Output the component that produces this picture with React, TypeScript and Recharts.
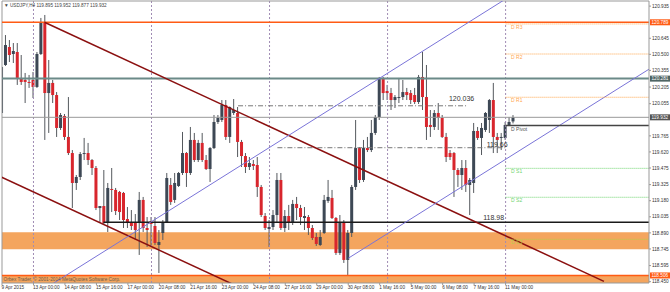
import React from "react";
import {
  Bar,
  ComposedChart,
  ReferenceArea,
  ReferenceDot,
  ReferenceLine,
  XAxis,
  YAxis,
} from "recharts";

// USDJPY H4, bar 0 = 9 Apr 2015 16:00
const OPEN = [
  119.971, 120.404, 120.566, 120.503, 120.521, 120.287, 120.269, 120.251, 120.269, 120.206,
  120.503, 120.783, 120.151, 120.242, 120.133, 119.836, 119.944, 119.755, 119.61, 119.34,
  119.394, 119.601, 119.61, 119.547, 119.475, 119.114, 119.132, 118.979, 119.286, 119.277,
  119.259, 119.25, 119.015, 118.979, 118.979, 118.988, 119.187, 118.934, 118.997, 118.952,
  118.781, 118.889, 118.988, 119.322, 119.187, 119.313, 119.43, 119.61, 119.43, 119.728,
  119.547, 119.701, 119.547, 119.466, 119.655, 119.89, 119.908, 120.043, 119.755, 119.971,
  119.971, 119.71, 119.583, 119.484, 119.511, 119.502, 119.304, 119.042, 118.925, 118.943,
  119.051, 119.367, 118.934, 119.042, 118.988, 119.151, 119.114, 119.024, 119.033, 118.934,
  118.853, 118.781, 118.889, 119.178, 119.205, 119.024, 118.709, 118.988, 118.646, 118.889,
  119.304, 119.655, 119.367, 119.655, 119.637, 119.791, 119.935, 120.287, 120.169, 120.151,
  120.088, 120.106, 120.115, 120.16, 120.151, 120.133, 120.07, 120.296, 120.115, 119.863,
  119.845, 119.971, 119.926, 119.755, 119.61, 119.61, 119.457, 119.412, 119.475, 119.322,
  119.34, 119.809, 119.746, 119.818, 119.908, 120.088, 119.755, 119.746, 119.746, 119.863,
  119.895,
];
const HIGH = [
  120.395, 120.674, 120.629, 120.602, 120.602, 120.494, 120.332, 120.314, 120.341, 120.521,
  120.828, 120.855, 120.449, 120.269, 120.16, 119.971, 119.962, 120.115, 119.637, 119.412,
  119.619, 119.746, 119.701, 119.556, 119.493, 119.132, 119.457, 119.34, 119.475, 119.295,
  119.268, 119.259, 119.123, 119.096, 119.06, 119.259, 119.214, 119.033, 119.033, 119.033,
  118.916, 119.006, 119.43, 119.385, 119.43, 119.439, 119.8, 119.619, 119.845, 119.791,
  119.728, 119.791, 119.592, 119.664, 119.953, 119.953, 120.088, 120.088, 120.03, 120.097,
  120.025, 119.728, 119.61, 119.574, 119.547, 119.574, 119.322, 119.069, 119.006, 119.096,
  119.43, 119.43, 119.096, 119.142, 119.187, 119.214, 119.142, 119.123, 119.051, 118.961,
  118.889, 118.916, 119.232, 119.367, 119.277, 119.033, 119.051, 119.006, 118.916, 119.322,
  119.908, 119.664, 119.728, 119.755, 119.908, 119.953, 120.296, 120.296, 120.224, 120.197,
  120.133, 120.287, 120.269, 120.197, 120.178, 120.197, 120.314, 120.521, 120.404, 119.998,
  119.998, 120.061, 119.953, 119.791, 119.637, 119.619, 119.475, 119.547, 119.547, 119.385,
  119.881, 119.845, 119.881, 119.98, 120.097, 120.242, 119.791, 119.791, 119.89, 119.935,
  119.952,
];
const LOW = [
  119.962, 120.395, 120.431, 120.422, 120.224, 120.224, 120.061, 120.197, 120.106, 120.197,
  120.494, 119.728, 119.791, 120.061, 119.755, 119.818, 119.728, 119.592, 119.114, 119.277,
  119.367, 119.547, 119.502, 119.412, 119.096, 118.979, 118.97, 118.898, 119.078, 119.051,
  119.006, 118.934, 118.934, 118.916, 118.826, 118.691, 118.898, 118.763, 118.772, 118.781,
  118.528, 118.826, 118.979, 119.142, 119.16, 119.304, 119.412, 119.304, 119.412, 119.529,
  119.529, 119.529, 119.457, 119.349, 119.646, 119.872, 119.89, 119.728, 119.701, 119.953,
  119.574, 119.484, 119.43, 119.457, 119.457, 119.214, 119.033, 118.916, 118.763, 118.916,
  118.988, 118.916, 118.898, 118.916, 118.961, 119.006, 118.961, 118.916, 118.871, 118.826,
  118.772, 118.772, 118.88, 119.16, 119.015, 118.691, 118.691, 118.619, 118.501, 118.853,
  119.277, 119.34, 119.349, 119.619, 119.619, 119.773, 119.908, 120.088, 120.088, 119.998,
  120.016, 120.061, 120.088, 120.088, 120.052, 120.052, 120.052, 119.998, 119.728, 119.755,
  119.818, 119.818, 119.746, 119.529, 119.547, 119.214, 119.304, 119.277, 119.259, 119.051,
  119.25, 119.728, 119.592, 119.8, 119.791, 119.61, 119.61, 119.637, 119.728, 119.854,
  119.877,
];
const CLOSE = [
  120.386, 120.584, 120.494, 120.53, 120.287, 120.251, 120.251, 120.242, 120.206, 120.503,
  120.783, 120.151, 120.242, 120.133, 119.836, 119.953, 119.755, 119.61, 119.34, 119.394,
  119.601, 119.61, 119.547, 119.475, 119.114, 119.132, 118.979, 119.295, 119.277, 119.087,
  119.078, 119.006, 118.979, 118.952, 118.916, 119.187, 118.934, 118.916, 118.97, 118.799,
  118.808, 118.988, 119.385, 119.169, 119.34, 119.43, 119.61, 119.43, 119.728, 119.547,
  119.701, 119.547, 119.466, 119.655, 119.89, 119.926, 120.043, 119.755, 120.025, 119.998,
  119.71, 119.583, 119.484, 119.52, 119.493, 119.304, 119.051, 118.934, 118.943, 119.051,
  119.367, 118.934, 119.042, 118.988, 119.151, 119.114, 119.033, 119.042, 118.934, 118.844,
  118.79, 118.853, 119.187, 119.214, 119.024, 118.709, 118.988, 118.646, 118.889, 119.304,
  119.655, 119.367, 119.655, 119.637, 119.791, 119.935, 120.287, 120.151, 120.151, 120.088,
  120.115, 120.115, 120.16, 120.133, 120.088, 120.07, 120.296, 120.115, 119.845, 119.845,
  119.971, 119.926, 119.755, 119.574, 119.574, 119.457, 119.412, 119.475, 119.322, 119.367,
  119.809, 119.746, 119.836, 119.971, 120.088, 119.755, 119.728, 119.755, 119.863, 119.89,
  119.932,
];

const TIME_TICKS = [0, 8, 16, 24, 32, 40, 48, 56, 64, 72, 80, 88, 96, 104, 112, 120, 128];
const TIME_LABELS = [
  "9 Apr 2015", "13 Apr 00:00", "14 Apr 08:00", "15 Apr 16:00", "17 Apr 00:00",
  "20 Apr 08:00", "21 Apr 16:00", "23 Apr 00:00", "24 Apr 08:00", "27 Apr 16:00",
  "29 Apr 00:00", "30 Apr 08:00", "1 May 16:00", "5 May 00:00", "6 May 08:00",
  "7 May 16:00", "11 May 00:00",
];
const WEEK_STARTS = [8, 38, 68, 98, 128];

const PRICE_TICKS = [
  120.935, 120.645, 120.5, 120.355, 120.205, 120.055, 119.765, 119.62, 119.475,
  119.325, 119.18, 119.035, 118.89, 118.745, 118.595, 118.45,
];

const Y_MIN = 118.438;
const Y_MAX = 120.981;
const X_MIN = 0;
const X_MAX = 164.45;

// daily pivots, drawn from 11 May 00:00
const PIVOT_NAMES = ["D R3", "D R2", "D R1", "D Pivot", "D S1", "D S2", "D S3"];
const PIVOT_PRICES = [120.774, 120.503, 120.113, 119.858, 119.472, 119.211, 118.832];
const PIVOT_START = 128;

// support zone and bottom zone
const ZONE = [118.742, 118.895];
const BOTTOM_ZONE = [118.3, 118.506];

// trend channels: [bar, price] anchors
const DOWN_TOP = [[10.8, 120.789], [153, 118.453]];
const DOWN_BOTTOM = [[-1, 119.407], [62, 118.372]];
const UP_TOP = [[10, 118.367], [135, 121.155]];
const UP_BOTTOM = [[88, 118.661], [170, 120.49]];

const MARKS = [
  { text: "120.036", bar: 113.6, price: 120.081 },
  { text: "119.66", bar: 123.2, price: 119.666 },
  { text: "118.98", bar: 122.3, price: 119.008 },
];
const DASH_LEVELS = [
  { from: 60, to: 118, price: 120.036 },
  { from: 70, to: 128, price: 119.658 },
];
const SUPPORT_LINE = { from: 25.8, price: 118.985 };

const CANDLES = OPEN.map((o, i) => ({
  i,
  o,
  h: HIGH[i],
  l: LOW[i],
  c: CLOSE[i],
  range: [LOW[i], HIGH[i]],
}));

const FONT = "'Liberation Sans', Arial, sans-serif";
const BULL = "#3d4855";
const BEAR = "#d8262d";
const WICK = "#55595e";

function Candle(props: any) {
  const { x, y, width, height, payload } = props;
  if (payload == null || x == null) return null;
  const { o, h, l, c } = payload;
  const span = h - l || 1;
  const py = (p: number) => y + ((h - p) / span) * height;
  const top = py(Math.max(o, c));
  const bottom = py(Math.min(o, c));
  const cx = x + width / 2;
  return (
    <g>
      <line x1={cx} x2={cx} y1={y} y2={y + height} stroke={WICK} strokeWidth={1} />
      <rect
        x={x}
        y={top}
        width={width}
        height={Math.max(bottom - top, 1)}
        fill={c >= o ? BULL : BEAR}
      />
    </g>
  );
}

function TimeTick(props: any) {
  const { x, y, payload } = props;
  const idx = TIME_TICKS.indexOf(payload.value);
  return (
    <text x={x - 0.5} y={y + 4} fontSize={4.7} fill="#333" fontFamily={FONT} textAnchor="start">
      {TIME_LABELS[idx]}
    </text>
  );
}

function axisTag(text: string, bg: string) {
  return (props: any) => {
    const vb = props.viewBox;
    if (!vb) return null;
    const x = vb.x + vb.width;
    return (
      <g>
        <rect x={x + 1} y={vb.y - 3} width={20} height={6} fill={bg} />
        <text x={x + 2.5} y={vb.y + 1.7} fontSize={4.7} fill="#fff" fontFamily={FONT}>
          {text}
        </text>
      </g>
    );
  };
}

function pivotTag(text: string, color: string) {
  return (props: any) => {
    const vb = props.viewBox;
    if (!vb) return null;
    return (
      <text x={vb.x + 5.5} y={vb.y + 5} fontSize={5} fill={color} fontFamily={FONT}>
        {text}
      </text>
    );
  };
}

function markShape(text: string) {
  return (props: any) => (
    <text x={props.cx} y={props.cy} fontSize={7} fill="#333" fontFamily={FONT}>
      {text}
    </text>
  );
}

const seg = (pts: number[][]) => pts.map(([x, y]) => ({ x, y }));

export default function App() {
  return (
    <div style={{ position: "relative", width: 670, height: 292, background: "#fff" }}>
      <style>{"body{margin:0}"}</style>
      <ComposedChart
        width={670}
        height={292}
        data={CANDLES}
        margin={{ top: 1, right: 0, bottom: 0, left: 2 }}
      >
        <XAxis
          dataKey="i"
          type="number"
          domain={[X_MIN, X_MAX]}
          allowDataOverflow
          ticks={TIME_TICKS}
          interval={0}
          height={9}
          tickSize={2}
          tickMargin={0}
          tick={(p: any) => <TimeTick {...p} />}
          axisLine={{ stroke: "#999" }}
          tickLine={{ stroke: "#999" }}
        />
        <YAxis
          type="number"
          orientation="right"
          domain={[Y_MIN, Y_MAX]}
          allowDataOverflow
          ticks={PRICE_TICKS}
          interval={0}
          width={21}
          tickSize={2}
          tickMargin={1}
          tick={{ fontSize: 4.7, fill: "#333", fontFamily: FONT }}
          tickFormatter={(v: number) => v.toFixed(3)}
          axisLine={{ stroke: "#999" }}
          tickLine={{ stroke: "#999" }}
        />

        <ReferenceArea y1={ZONE[0]} y2={ZONE[1]} fill="#f4a55e" fillOpacity={1} stroke="none" />
        <ReferenceArea
          y1={BOTTOM_ZONE[0]}
          y2={BOTTOM_ZONE[1]}
          fill="#f4a55e"
          fillOpacity={1}
          stroke="none"
          ifOverflow="hidden"
        />

        {WEEK_STARTS.map((b) => (
          <ReferenceLine key={b} x={b} stroke="#a08cb4" strokeDasharray="2 2" />
        ))}

        <ReferenceLine y={Y_MAX} stroke="#999" ifOverflow="visible" />
        <ReferenceLine x={X_MIN} stroke="#999" ifOverflow="visible" />

        <ReferenceLine y={120.789} stroke="#ff5b14" strokeWidth={1.5} label={axisTag("120.789", "#ff5b14")} />
        <ReferenceLine y={120.281} stroke="#6b8a88" strokeWidth={2} label={axisTag("120.281", "#4f6564")} />
        <ReferenceLine y={119.932} stroke="#9a9a9a" strokeWidth={1} label={axisTag("119.932", "#555")} />
        <ReferenceLine y={118.506} stroke="#ff5b14" strokeWidth={1.5} label={axisTag("118.506", "#ff5b14")} />

        {DASH_LEVELS.map((d) => (
          <ReferenceLine
            key={d.price}
            segment={[{ x: d.from, y: d.price }, { x: d.to, y: d.price }]}
            stroke="#777"
            strokeDasharray="5 2 1 2"
          />
        ))}
        <ReferenceLine
          segment={[{ x: SUPPORT_LINE.from, y: SUPPORT_LINE.price }, { x: X_MAX, y: SUPPORT_LINE.price }]}
          stroke="#1a1a1a"
          strokeWidth={1.5}
        />

        <ReferenceLine segment={seg(DOWN_TOP)} stroke="#8b1010" strokeWidth={1.5} ifOverflow="hidden" />
        <ReferenceLine segment={seg(DOWN_BOTTOM)} stroke="#8b1010" strokeWidth={1.5} ifOverflow="hidden" />
        <ReferenceLine segment={seg(UP_TOP)} stroke="#7a74d8" strokeWidth={1} ifOverflow="hidden" />
        <ReferenceLine segment={seg(UP_BOTTOM)} stroke="#7a74d8" strokeWidth={1} ifOverflow="hidden" />

        {PIVOT_PRICES.map((p, k) => {
          const name = PIVOT_NAMES[k];
          const isPivot = name === "D Pivot";
          const color = isPivot ? "#555" : name.includes("R") ? "#ffa64d" : k === 6 ? "#b5cf4a" : "#6fd46f";
          return (
            <ReferenceLine
              key={name}
              segment={[{ x: PIVOT_START, y: p }, { x: X_MAX, y: p }]}
              stroke={isPivot ? "#444" : color}
              strokeWidth={isPivot ? 1.5 : 1}
              strokeDasharray={isPivot ? undefined : "1 1"}
              label={pivotTag(name, color)}
            />
          );
        })}

        <Bar
          dataKey="range"
          barSize={3}
          shape={(p: any) => <Candle {...p} />}
          isAnimationActive={false}
        />

        {MARKS.map((m) => (
          <ReferenceDot
            key={m.text}
            x={m.bar}
            y={m.price}
            r={0}
            shape={markShape(m.text)}
          />
        ))}
      </ComposedChart>
      <svg
        width={670}
        height={292}
        style={{ position: "absolute", left: 0, top: 0, pointerEvents: "none" }}
      >
        <text x={4} y={6.6} fontSize={4.7} fill="#444" fontFamily={FONT}>
          ▼ USDJPY,H4  119.895 119.952 119.877 119.932
        </text>
        <text x={3.5} y={280.8} fontSize={4.7} fill="#6b5a4a" fontFamily={FONT}>
          Orbex Trader, © 2001-2014 MetaQuotes Software Corp.
        </text>
      </svg>
    </div>
  );
}
